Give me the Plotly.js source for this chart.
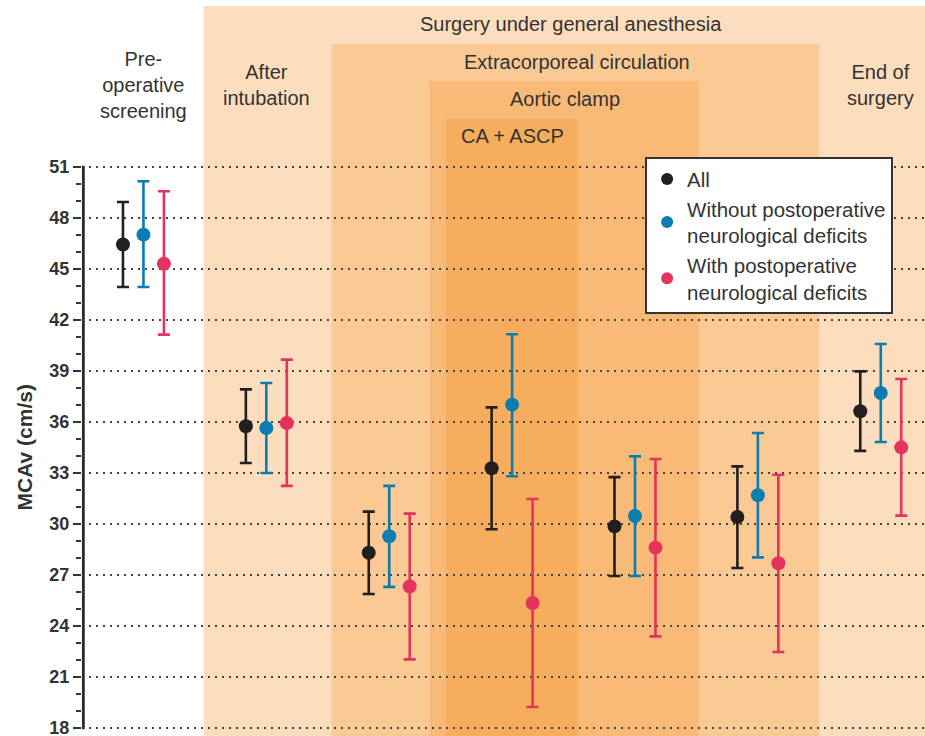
<!DOCTYPE html>
<html>
<head>
<meta charset="utf-8">
<script src="https://cdn.plot.ly/plotly-3.0.1.min.js"></script>
<style>html,body{margin:0;padding:0;background:#fff;}#chart{width:925px;height:736px;}</style>
</head>
<body>
<div id="chart"></div>
<script>
// Time points (categories)
const categories = ['Pre-operative screening', 'After intubation', 'ECC start', 'CA + ASCP', 'Aortic clamp', 'ECC end', 'End of surgery'];

// Series names
const seriesNames = ['All', 'Without postoperative<br>neurological deficits', 'With postoperative<br>neurological deficits'];

// MCAv (cm/s): mean, upper and lower whisker ends
const meanAll     = [46.44, 35.75, 28.31, 33.28, 29.86, 30.41, 36.63];
const upperAll    = [48.94, 37.92, 30.73, 36.86, 32.76, 33.39, 38.98];
const lowerAll    = [43.94, 33.59, 25.88, 29.69, 26.94, 27.41, 34.30];

const meanWithout  = [47.02, 35.65, 29.28, 37.02, 30.47, 31.69, 37.71];
const upperWithout = [50.16, 38.29, 32.24, 41.16, 33.98, 35.35, 40.59];
const lowerWithout = [43.94, 33.00, 26.30, 32.81, 26.94, 28.04, 34.82];

const meanWith  = [45.31, 35.94, 26.32, 25.35, 28.61, 27.69, 34.51];
const upperWith = [49.57, 39.67, 30.61, 31.47, 33.82, 32.90, 38.53];
const lowerWith = [41.14, 32.24, 22.04, 19.24, 23.39, 22.47, 30.49];

// Y axis ticks
const yMajorTicks = [18, 21, 24, 27, 30, 33, 36, 39, 42, 45, 48, 51];
const yMinorTicks = [19, 20, 22, 23, 25, 26, 28, 29, 31, 32, 34, 35, 37, 38, 40, 41, 43, 44, 46, 47, 49, 50];

// Phase labels
const phaseLabels = ['Surgery under general anesthesia', 'Extracorporeal circulation', 'Aortic clamp', 'CA + ASCP'];
const pointLabels = ['Pre-<br>operative<br>screening', 'After<br>intubation', 'End of<br>surgery'];

const colors = ['#231F20', '#0B7DB1', '#E5335F'];
const FONT = '"Liberation Sans", Arial, Helvetica, sans-serif';
const TXT = '#333333';

function mkTrace(name, mean, upper, lower, color) {
  return {
    type: 'scatter', mode: 'markers', name: name,
    x: categories, y: mean,
    marker: {color: color, size: 14},
    error_y: {
      type: 'data', symmetric: false,
      array: upper.map((u, i) => u - mean[i]),
      arrayminus: lower.map((l, i) => mean[i] - l),
      color: color, thickness: 2.6, width: 6
    },
    cliponaxis: false
  };
}

const traces = [
  mkTrace(seriesNames[0], meanAll, upperAll, lowerAll, colors[0]),
  mkTrace(seriesNames[1], meanWithout, upperWithout, lowerWithout, colors[1]),
  mkTrace(seriesNames[2], meanWith, upperWith, lowerWith, colors[2])
];

const yTop = 60.47, yBot = 17.53;
const axisMin = yMajorTicks[0], axisMax = yMajorTicks[yMajorTicks.length - 1];

const shapes = [
  {type: 'rect', layer: 'below', xref: 'x', yref: 'y', x0: 0.49, x1: 7, y0: yBot, y1: yTop, fillcolor: '#FCDEBE', line: {width: 0}},
  {type: 'rect', layer: 'below', xref: 'x', yref: 'y', x0: 1.53, x1: 5.5, y0: yBot, y1: 58.24, fillcolor: '#FAC994', line: {width: 0}},
  {type: 'rect', layer: 'below', xref: 'x', yref: 'y', x0: 2.33, x1: 4.52, y0: yBot, y1: 56.06, fillcolor: '#F8BA76', line: {width: 0}},
  {type: 'rect', layer: 'below', xref: 'x', yref: 'y', x0: 2.46, x1: 3.53, y0: yBot, y1: 53.82, fillcolor: '#F6AD5E', line: {width: 0}},
  // y-axis line spanning 18..51 only
  {type: 'line', layer: 'above', xref: 'paper', yref: 'y', x0: 0.0016, x1: 0.0016,
   y0: axisMin - 0.07, y1: axisMax + 0.07, line: {color: '#2a2a2a', width: 2.8}}
];

const labelFont = {family: FONT, size: 20, color: TXT};
const annotations = [
  {xref: 'x', yref: 'y', x: 3.48, y: 59.41, text: phaseLabels[0], showarrow: false, font: labelFont, xanchor: 'center', yanchor: 'middle'},
  {xref: 'x', yref: 'y', x: 3.53, y: 57.18, text: phaseLabels[1], showarrow: false, font: labelFont, xanchor: 'center', yanchor: 'middle'},
  {xref: 'x', yref: 'y', x: 3.43, y: 55.0, text: phaseLabels[2], showarrow: false, font: labelFont, xanchor: 'center', yanchor: 'middle'},
  {xref: 'x', yref: 'y', x: 3.0, y: 52.82, text: phaseLabels[3], showarrow: false, font: labelFont, xanchor: 'center', yanchor: 'middle'},
  {xref: 'x', yref: 'y', x: 0, y: 55.85, text: pointLabels[0], showarrow: false, font: labelFont, xanchor: 'center', yanchor: 'middle'},
  {xref: 'x', yref: 'y', x: 1, y: 55.8, text: pointLabels[1], showarrow: false, font: labelFont, xanchor: 'center', yanchor: 'middle'},
  {xref: 'x', yref: 'y', x: 6, y: 55.8, text: pointLabels[2], showarrow: false, font: labelFont, xanchor: 'center', yanchor: 'middle'},
  {xref: 'paper', yref: 'y', x: -0.0688, y: 34.5, text: 'MCAv (cm/s)', textangle: -90, showarrow: false,
   font: {family: FONT, size: 21, color: TXT, weight: 'bold'}, xanchor: 'center', yanchor: 'middle'}
];

const layout = {
  width: 925, height: 736,
  margin: {l: 82, r: 0, t: 6, b: 0, pad: 0},
  paper_bgcolor: '#ffffff', plot_bgcolor: '#ffffff',
  font: {family: FONT, color: TXT},
  scattermode: 'group', scattergap: 0.5,
  showlegend: true,
  legend: {
    x: 0.668, y: 0.793, xanchor: 'left', yanchor: 'top',
    bgcolor: '#ffffff', bordercolor: '#333333', borderwidth: 2,
    font: {family: FONT, size: 20.5, color: TXT},
    itemsizing: 'constant'
  },
  xaxis: {
    type: 'category', categoryarray: categories, categoryorder: 'array',
    range: [-0.5, 6.36], showgrid: false, zeroline: false, showline: false,
    showticklabels: false, ticks: '', fixedrange: true
  },
  yaxis: {
    range: [yBot, yTop], tickmode: 'array', tickvals: yMajorTicks,
    ticks: 'outside', ticklen: 8, tickwidth: 2, tickcolor: TXT,
    tickfont: {family: FONT, size: 18, color: TXT, weight: 'bold'},
    ticklabeloverflow: 'allow',
    showgrid: true, gridcolor: '#444444', gridwidth: 2, griddash: '2px,5px',
    zeroline: false, showline: false,
    minor: {tickmode: 'array', tickvals: yMinorTicks, ticks: 'outside', ticklen: 5, tickwidth: 1.5, tickcolor: TXT, showgrid: false},
    fixedrange: true
  },
  shapes: shapes,
  annotations: annotations
};

Plotly.newPlot('chart', traces, layout, {displayModeBar: false, staticPlot: true});
</script>
</body>
</html>
